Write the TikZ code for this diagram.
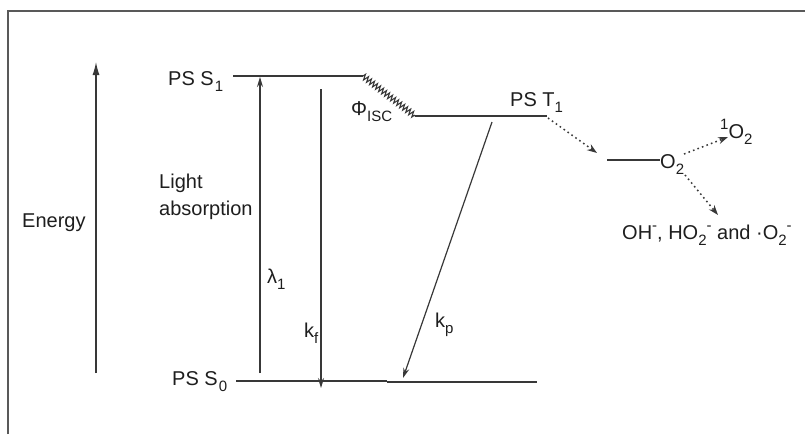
\documentclass[tikz,border=0pt]{standalone}
\usepackage{fontspec}
\setmainfont{Liberation Sans}
\usetikzlibrary{arrows.meta,decorations.pathmorphing}
\definecolor{ink}{HTML}{1E1E1E}
\definecolor{linec}{HTML}{383838}
\newcommand\mysub[1]{\raisebox{-0.33em}{\fontsize{15}{17}\selectfont #1}}
\newcommand\mysup[1]{\raisebox{0.42em}{\fontsize{15}{17}\selectfont #1}}
\tikzset{
  lbl/.style={font=\fontsize{20}{23}\selectfont, text=ink, inner sep=0pt},
  levelline/.style={line width=2.2pt, draw=linec},
  arr/.style={line width=1.2pt, draw=linec, -{Stealth[length=10pt,width=6pt]}},
  bigarr/.style={line width=1.2pt, draw=linec, -{Latex[length=13pt,width=7pt]}},
  dotarr/.style={line width=1.5pt, draw=linec, dash pattern=on 1.6pt off 3.2pt, -{Stealth[length=10pt,width=7pt]}},
  frameline/.style={line width=1.5pt, draw=black!65},
}
\begin{document}
\begin{tikzpicture}[x=1pt,y=-1pt]
\useasboundingbox (0,0) rectangle (805,434);
\fill[white] (0,0) rectangle (805,434);
% frame
\coordinate (fbl) at (8,434);
\coordinate (ftl) at (8,11);
\coordinate (ftr) at (805,11);
\draw[frameline] (fbl) -- (ftl) -- (ftr);

% level coordinates
\coordinate (s1a) at (233,76);
\coordinate (s1b) at (363,76);
\coordinate (t1a) at (415,116);
\coordinate (t1b) at (547,116);
\coordinate (s0a) at (236,381);
\coordinate (s0m) at (387,381);
\coordinate (s0m2) at (387,382);
\coordinate (s0b) at (537,382);
\coordinate (o2a) at (607,160);
\coordinate (o2b) at (660,160);

% levels
\draw[levelline] (s1a) -- (s1b);
\draw[line width=1.1pt, draw=linec, decorate, decoration={zigzag, amplitude=2.8pt, segment length=3.8pt}] (s1b) -- (t1a);
\draw[levelline] (t1a) -- (t1b);
\draw[levelline] (s0a) -- (s0m);
\draw[levelline] (s0m2) -- (s0b);
\draw[levelline] (o2a) -- (o2b);

% labels
\node[lbl, anchor=base west] (energy) at (22,227) {Energy};
\node[lbl, anchor=base west] (ps1) at (168,85) {PS S\kern1pt\mysub{1}};
\node[lbl, anchor=base west] (phi) at (351,115) {Φ\mysub{ISC}};
\node[lbl, anchor=base west] (pt1) at (510,106) {PS T\mysub{1}};
\node[lbl, anchor=base west] (light) at (159,188) {Light};
\node[lbl, anchor=base west] (absn) at (159,215) {absorption};
\node[lbl, anchor=base west] (lam) at (267,283) {λ\mysub{1}};
\node[lbl, anchor=base west] (kf) at (304,337) {k\mysub{f}};
\node[lbl, anchor=base west] (ps0) at (172,385) {PS S\kern1pt\mysub{0}};
\node[lbl, anchor=base west] (kp) at (435,327) {k\mysub{p}};
\node[lbl, anchor=base west] (o2) at (660,168) {O\mysub{2}};
\node[lbl, anchor=base west] (so2) at (720,138) {\mysup{1}O\mysub{2}};
\node[lbl, anchor=base west] (ros) at (622,239) {OH\mysup{-}, HO\mysub{2}\mysup{-} and ·O\mysub{2}\mysup{-}};

% arrow end points
\coordinate (eb) at (96,373);
\coordinate (et) at (96,62);
\coordinate (lab) at (260,373);
\coordinate (lat) at (260,77);
\coordinate (kft) at (321,89);
\coordinate (kfb) at (321,388);
\coordinate (kpt) at (492,122);
\coordinate (kpb) at (403,378);
\coordinate (d1a) at (548,118);
\coordinate (d1b) at (597,153);
\coordinate (d2a) at (684,154);
\coordinate (d2b) at (728,137);
\coordinate (d3a) at (685,175);
\coordinate (d3b) at (718,215);

\draw[bigarr] (eb) -- (et);
\draw[arr] (lab) -- (lat);
\draw[arr] (kft) -- (kfb);
\draw[arr] (kpt) -- (kpb);
\draw[dotarr] (d1a) -- (d1b);
\draw[dotarr] (d2a) -- (d2b);
\draw[dotarr] (d3a) -- (d3b);
\end{tikzpicture}
\end{document}
